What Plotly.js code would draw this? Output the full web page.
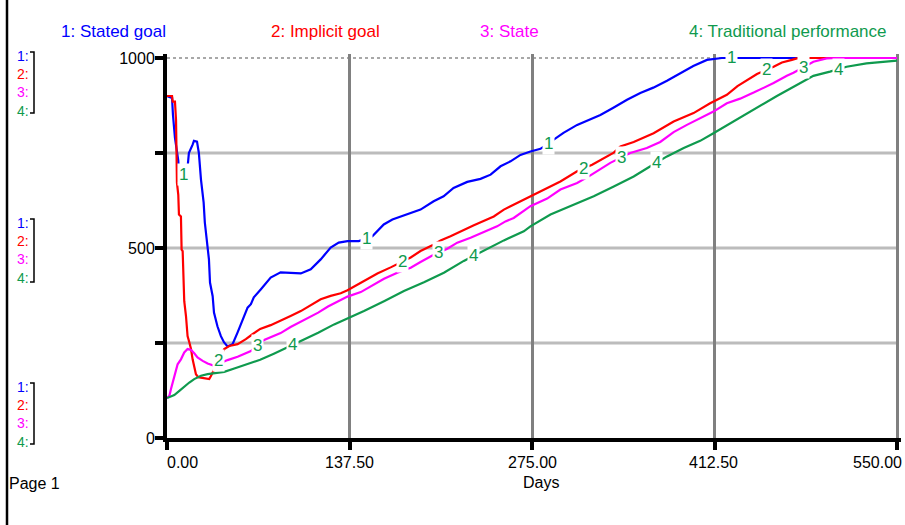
<!DOCTYPE html>
<html>
<head>
<meta charset="utf-8">
<script src="https://cdn.plot.ly/plotly-3.0.1.min.js"></script>
<style>html,body{margin:0;padding:0;background:#fff;}#chart{width:905px;height:525px;}</style>
</head>
<body>
<div id="chart"></div>
<script>
// ---------- data ----------
const seriesNames = ["1: Stated goal", "2: Implicit goal", "3: State", "4: Traditional performance"];

const blueDays = [0,3.8,4.5,6,8.5,9,15,16.5,19.3,20.3,22.6,24,25.6,27.6,28.5,30.6,31.6,32.4,34.4,35.4,38,40.6,42.9,45.6,49.4,53.2,56.9,60.7,63.2,65.4,70.6,78.1,85.6,94.3,100.8,108.3,115.8,123.3,129.4,136,144.5,154.7,163.3,169.8,180,191,200.9,208.4,215.9,226.2,236.2,243.8,251.3,258.8,266.3,273.8,281.4,291.1,298.7,309,316.5,326.5,336.3,346.6,356.6,366.4,376.7,386.7,396.5,406.8,411.5,418,550];
const blueVals = [900,895,850,790,730,693,693,750,772,782,780,750,680,620,567,509,470,409,373,330,294,268,252,241,247,278,312,343,352,370,391,422,436,435,433,444,470,501,514,518,518,531,562,575,588,601,623,636,658,674,682,693,715,728,745,754,761,785,803,824,835,850,869,890,908,922,940,960,979,995,997,1000,1000];

const redDays = [0,3.8,4.3,6,6.8,7.5,8.5,9,10.5,11,11.8,12.3,13,14.3,15.5,16.8,18.1,19.3,20.5,21.8,23.5,31.8,33.1,35.4,36.9,43.1,46.9,53.2,59.4,64.4,70.2,78.1,85.6,93.1,100.8,108.3,115.8,123.3,130.9,136,143.5,151,158.5,168.5,183.6,191,199.9,206.1,213.6,231.2,246.2,253.8,266.3,273.8,281.4,296.4,309,320.3,336.6,341.6,351.6,366.6,381.7,396.7,409.2,421.8,429.8,444.5,457,463.3,470.8,474.5,480,550];
const redVals = [900,900,885,885,837,672,640,588,583,496,492,422,360,321,268,252,234,207,190,168,160,155,163,177,190,234,242,247,260,273,287,297,308,321,334,349,365,374,381,389,404,420,433,449,475,492,507,520,531,560,583,601,623,636,649,675,702,719,751,767,779,802,833,855,881,903,926,958,977,988,995,999,1000,1000];

const magDays = [0,1.8,3,5.5,8,10.5,13,15.5,18,20.5,23,26.9,30.6,35.6,45.6,53.2,60.7,63.2,73.2,85.6,93.1,103.9,113.9,121.3,128.8,136,146,156,163.5,173.5,183.6,191,199.9,211.2,218.7,228.7,238.7,248.7,255,261.2,273.8,286.4,296.4,309,319,334,349,361.5,371.6,381.7,391.7,401.7,411.7,421.8,431.8,442,457,467,472,487,497,505,550];
const magVals = [105,111,129,164,194,207,225,234,232,223,212,203,196,190,205,214,225,229,258,276,292,312,330,346,360,372,384,404,419,435,448,463,480,498,514,527,541,557,570,579,610,630,654,671,691,724,750,763,779,805,824,842,859,881,893,909,934,953,961,990,999,1000,1000];

const greenDays = [0,1.8,5.5,9.3,13,16.8,20.5,25.6,30.6,35.6,43.1,50.7,58.2,65.7,70.2,80.5,100.8,113.9,125.9,136,148.4,163.5,178.5,193.6,208.6,223.6,238.7,253.8,268.8,273.8,288.9,303.9,321.5,336.6,351.6,364.2,376.7,389.3,401.7,411.7,426.8,444.5,459.5,474.5,487,499.5,512,527,539.5,550];
const greenVals = [105,107,113,124,136,146,155,164,168,171,174,183,192,200,206,222,255,277,299,314,334,360,387,410,435,466,494,520,544,557,588,610,636,662,688,715,741,763,782,802,833,871,900,929,953,964,977,986,990,993];

// where the number tags sit along each line (days)
const tag1Days = [12.8,150.5,287.4,425];
const tag2Days = [39,177.6,313.8,451.5];
const tag3Days = [68.5,204.7,342.4,479.3];
const tag4Days = [94.8,231,368.7,505.6];

const xTickVals = [0,137.5,275,412.5,550];
const xTickText = ["0.00","137.50","275.00","412.50","550.00"];
const yTickVals = [0,250,500,750,1000];
const yTickText = ["0","","500","","1000"];
const xAxisTitle = "Days";
const pageLabel = "Page 1";
const scaleKeys = ["1:","2:","3:","4:"];

// ---------- styling ----------
const colors = ["#0000ff","#ff0000","#ff00ff","#0f9a4e"];
const FONT = "Liberation Sans, Arial, Helvetica, sans-serif";
const L = 167, R = 4, T = 54, B = 87, W = 905, H = 525;
const PW = W - L - R, PH = H - T - B;
const pxX = p => (p - L) / PW;
const pxY = p => (H - B - p) / PH;

function interp(xs, ys, x) {
  for (let i = 1; i < xs.length; i++) {
    if (x <= xs[i]) {
      const f = (x - xs[i-1]) / (xs[i] - xs[i-1]);
      return ys[i-1] + f * (ys[i] - ys[i-1]);
    }
  }
  return ys[ys.length-1];
}

const series = [
  [blueDays, blueVals],
  [redDays, redVals],
  [magDays, magVals],
  [greenDays, greenVals]
];
const tagDays = [tag1Days, tag2Days, tag3Days, tag4Days];

const traces = series.map((s, i) => ({
  x: s[0], y: s[1], type: "scatter", mode: "lines",
  line: {color: colors[i], width: 2.2},
  name: seriesNames[i], hoverinfo: "skip", showlegend: false
}));

const annotations = [];
// number tags on the lines
series.forEach((s, i) => {
  tagDays[i].forEach(d => {
    annotations.push({
      x: d, y: interp(s[0], s[1], d), xref: "x", yref: "y",
      text: String(i + 1), showarrow: false,
      font: {family: FONT, size: 17, color: colors[3]},
      bgcolor: "#ffffff", borderpad: 1, xanchor: "center", yanchor: "middle"
    });
  });
});
// top legend
const legendCenters = [113, 325, 509, 788];
seriesNames.forEach((n, i) => {
  annotations.push({
    x: pxX(legendCenters[i]), y: pxY(31), xref: "paper", yref: "paper",
    text: n, showarrow: false, xanchor: "center", yanchor: "middle",
    font: {family: FONT, size: 17, color: colors[i]}
  });
});
// x tick labels
const xLabelShift = [15, 0, 0, -1, -20];
xTickVals.forEach((v, i) => {
  annotations.push({
    x: v, y: pxY(462), xref: "x", yref: "paper",
    text: xTickText[i], showarrow: false, xanchor: "center", yanchor: "middle",
    xshift: xLabelShift[i],
    font: {family: FONT, size: 16, color: "#000"}
  });
});
annotations.push({
  x: pxX(541), y: pxY(482), xref: "paper", yref: "paper", text: xAxisTitle,
  showarrow: false, xanchor: "center", yanchor: "middle",
  font: {family: FONT, size: 16, color: "#000"}
});
annotations.push({
  x: pxX(7), y: pxY(483), xref: "paper", yref: "paper", text: pageLabel,
  showarrow: false, xanchor: "left", yanchor: "middle",
  font: {family: FONT, size: 16, color: "#000"}
});
// scale keys on the left: one stacked block per group
const keyGroupCenters = [83, 251, 414];
const brackets = [[52,113],[219,282],[383,444]];
const keyBlock = scaleKeys.map((k, i) => `<span style="color:${colors[i]}">${k}</span>`).join("<br>");
keyGroupCenters.forEach(c => {
  annotations.push({
    x: pxX(30), y: pxY(c), xref: "paper", yref: "paper", text: keyBlock,
    showarrow: false, xanchor: "right", yanchor: "middle", align: "right",
    borderpad: 0, font: {family: FONT, size: 14, color: "#000"}
  });
});

const shapes = [];
// horizontal grid lines
yTickVals.forEach(v => {
  if (v === 0) return;
  shapes.push({
    type: "line", xref: "x", yref: "y", x0: 0, x1: 550, y0: v, y1: v, layer: "below",
    line: v === 1000 ? {color: "#8c8c8c", width: 1.5, dash: "dot"} : {color: "#bcbcbc", width: 3}
  });
});
brackets.forEach(b => {
  shapes.push({
    type: "path", xref: "paper", yref: "paper",
    path: `M ${pxX(30)} ${pxY(b[0])} L ${pxX(34)} ${pxY(b[0])} L ${pxX(34)} ${pxY(b[1])} L ${pxX(30)} ${pxY(b[1])}`,
    line: {color: "#000", width: 1.5}
  });
});
// page frame line on the left
shapes.push({
  type: "line", xref: "paper", yref: "paper",
  x0: pxX(7), x1: pxX(7), y0: pxY(0), y1: pxY(525),
  line: {color: "#000", width: 2.5}
});

const layout = {
  width: W, height: H,
  margin: {l: L, r: R, t: T, b: B, pad: 0},
  paper_bgcolor: "#fff", plot_bgcolor: "#fff",
  showlegend: false,
  font: {family: FONT, size: 16, color: "#000"},
  xaxis: {
    range: [0, 553], tickmode: "array", tickvals: xTickVals, showticklabels: false,
    ticks: "outside", ticklen: 8, tickwidth: 4, tickcolor: "#000",
    showline: true, linecolor: "#000", linewidth: 4,
    showgrid: true, gridcolor: "#808080", gridwidth: 3, zeroline: false, fixedrange: true
  },
  yaxis: {
    range: [0, 1010.5], tickmode: "array", tickvals: yTickVals, ticktext: yTickText,
    ticks: "outside", ticklen: 8, tickwidth: 4, tickcolor: "#000",
    ticklabelstandoff: -3,
    tickfont: {family: FONT, size: 16, color: "#000"},
    showline: true, linecolor: "#000", linewidth: 4,
    showgrid: false, zeroline: false, fixedrange: true
  },
  annotations: annotations,
  shapes: shapes
};

Plotly.newPlot("chart", traces, layout, {displayModeBar: false, staticPlot: true});
</script>
</body>
</html>
